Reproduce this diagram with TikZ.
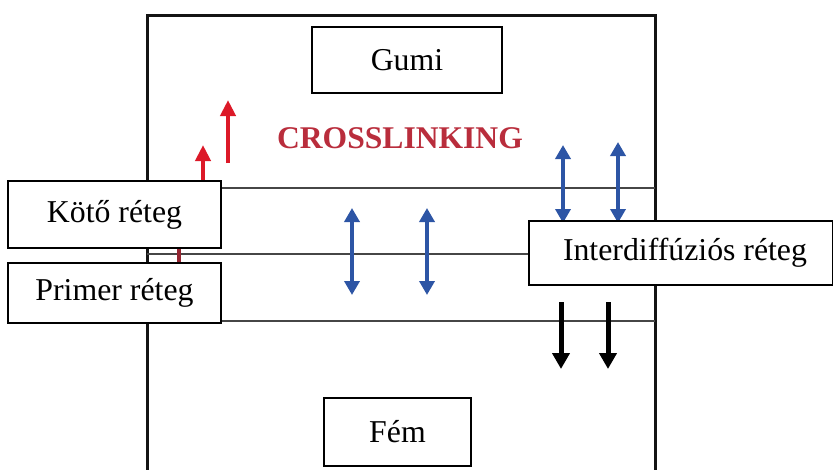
\documentclass[tikz,border=0pt]{standalone}
\usepackage{fontspec}
\setmainfont{Liberation Serif}
\usetikzlibrary{arrows.meta}
\definecolor{frameblk}{RGB}{20,20,20}
\definecolor{layerln}{RGB}{70,70,70}
\definecolor{redarr}{RGB}{220,25,40}
\definecolor{redtxt}{RGB}{185,45,60}
\definecolor{bluearr}{RGB}{45,85,165}
\tikzset{
  lbl/.style={draw=black, line width=1.5pt, fill=white, inner sep=0pt,
    font=\fontsize{31.8}{36}\selectfont, text=black},
  redup/.style={draw=redarr, line width=4pt, -{Triangle[width=15pt,length=16pt]}},
  bluedbl/.style={draw=bluearr, line width=4pt, {Triangle[width=15pt,length=14pt]}-{Triangle[width=15pt,length=14pt]}},
  blkdown/.style={draw=black, line width=5pt, -{Triangle[width=17pt,length=16pt]}},
}
\begin{document}
\begin{tikzpicture}[x=1pt,y=-1pt]
\useasboundingbox (0,0) rectangle (833,469);
% frame
\draw[frameblk, line width=3pt] (147,472) -- (147,15) -- (655,15) -- (655,472);
% layer lines
\draw[layerln, line width=2.5pt] (147,188) -- (655,188);
\draw[layerln, line width=2.5pt] (147,254) -- (655,254);
\draw[layerln, line width=2.5pt] (147,321) -- (655,321);
% crosslinking
\node[font=\bfseries\fontsize{31.6}{36}\selectfont, text=redtxt] (cl) at (400,138.5) {CROSSLINKING};
% red arrows
\coordinate (r1a) at (228,163); \coordinate (r1b) at (228,100);
\coordinate (r2a) at (203,230); \coordinate (r2b) at (203,145);
\coordinate (r3a) at (179,262); \coordinate (r3b) at (179,215);
\draw[redup] (r1a) -- (r1b);
\draw[redup] (r2a) -- (r2b);
\draw[redup, draw=redtxt!80!black] (r3a) -- (r3b);
% blue double arrows
\coordinate (b1a) at (352,208); \coordinate (b1b) at (352,295);
\coordinate (b2a) at (427,208); \coordinate (b2b) at (427,295);
\coordinate (b3a) at (563,145); \coordinate (b3b) at (563,223);
\coordinate (b4a) at (618,142); \coordinate (b4b) at (618,223);
\draw[bluedbl] (b1a) -- (b1b);
\draw[bluedbl] (b2a) -- (b2b);
\draw[bluedbl] (b3a) -- (b3b);
\draw[bluedbl] (b4a) -- (b4b);
% black arrows
\coordinate (k1a) at (561,302); \coordinate (k1b) at (561,369);
\coordinate (k2a) at (608,302); \coordinate (k2b) at (608,369);
\draw[blkdown] (k1a) -- (k1b);
\draw[blkdown] (k2a) -- (k2b);
% labels
\node[lbl, minimum width=190pt, minimum height=66pt] (gumi) at (407,60) {Gumi};
\node[lbl, minimum width=213pt, minimum height=67pt] (koto) at (114.5,214.5) {Kötő réteg};
\node[lbl, minimum width=213pt, minimum height=60pt] (primer) at (114.5,293) {Primer réteg};
\node[lbl, minimum width=304pt, minimum height=64pt] (inter) at (681,253) {\hspace{8pt}Interdiffúziós réteg};
\node[lbl, minimum width=147pt, minimum height=68pt] (fem) at (397.5,432) {Fém};
\end{tikzpicture}
\end{document}
